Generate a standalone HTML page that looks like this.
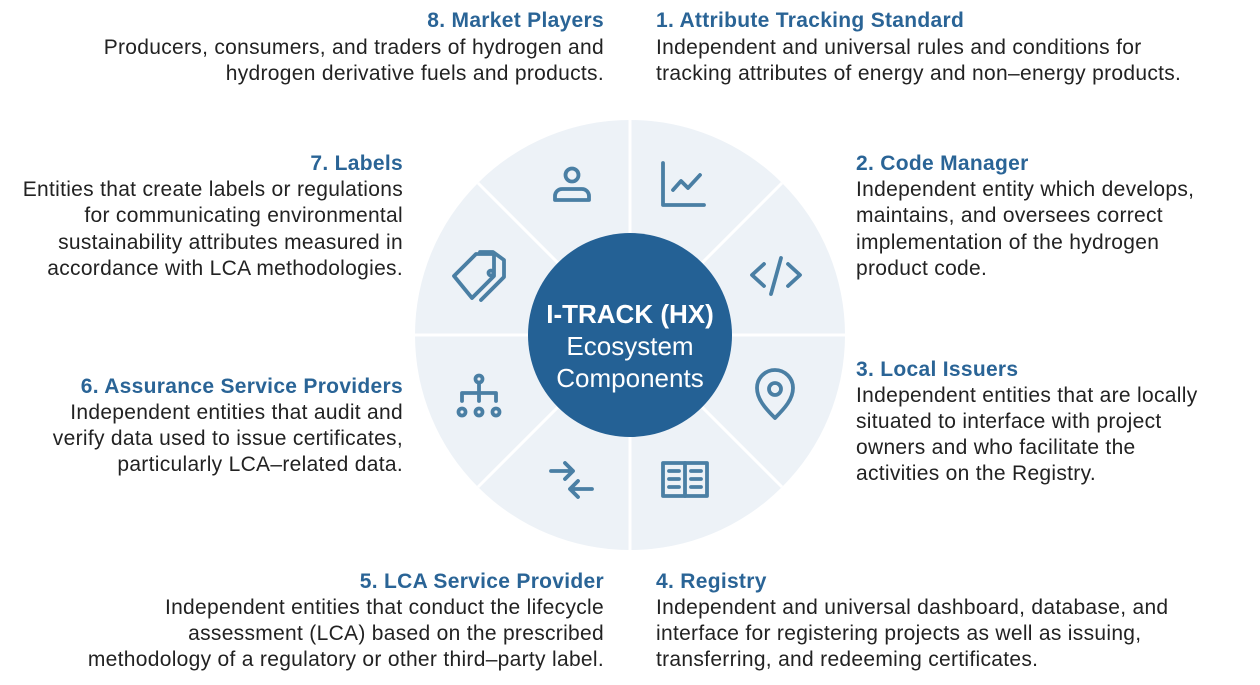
<!DOCTYPE html>
<html><head><meta charset="utf-8"><style>
html,body{margin:0;padding:0;background:#fff;}
svg{display:block;}
text{font-family:"Liberation Sans",Arial,sans-serif;font-size:21px;letter-spacing:0.3px;fill:#222;}
.t{font-weight:bold;fill:#2a6496;}
.r{text-anchor:end;}
.ic{fill:none;stroke:#4a7fa4;stroke-width:3.8;stroke-linecap:round;stroke-linejoin:round;}
</style></head><body>
<svg width="1260" height="685" viewBox="0 0 1260 685">
<circle cx="630" cy="335" r="215" fill="#edf2f7"/>
<g stroke="#fff" stroke-width="3">
<line x1="630" y1="120" x2="630" y2="550"/>
<line x1="415" y1="335" x2="845" y2="335"/>
<line x1="478" y1="183" x2="782" y2="487"/>
<line x1="782" y1="183" x2="478" y2="487"/>
</g>
<circle cx="630" cy="335" r="102" fill="#246195"/>
<text x="630" y="323" text-anchor="middle" style="font-weight:bold;font-size:26px;letter-spacing:0;fill:#fff">I-TRACK (HX)</text>
<text x="630" y="355" text-anchor="middle" style="font-size:26px;letter-spacing:0;fill:#fff">Ecosystem</text>
<text x="630" y="387" text-anchor="middle" style="font-size:26px;letter-spacing:0;fill:#fff">Components</text>
<g class="ic">
<circle cx="572" cy="175" r="6.5"/>
<path d="M555 200 v-4 a7 7 0 0 1 7 -7 h20 a7 7 0 0 1 7 7 v4 z"/>
<path d="M663 163 v42 h41"/>
<path d="M673 190 l8 -9 l7 7 l12 -13"/>
<path d="M764 264 l-12 11 l12 11 M788 264 l12 11 l-12 11 M781 258 l-10 36"/>
<path d="M775 418 c-10 -10 -18 -19 -18 -30 a18 18 0 0 1 36 0 c0 11 -8 20 -18 30 z"/>
<circle cx="775" cy="389" r="6"/>
<rect x="663" y="463" width="44" height="33"/>
<line x1="685" y1="463" x2="685" y2="496"/>
<path d="M669 471 h10 M669 479 h10 M669 487 h10 M691 471 h10 M691 479 h10 M691 487 h10"/>
<path d="M551 471 h22 M565 463 l8 8 l-8 8 M592 489 h-22 M578 481 l-8 8 l8 8"/>
<circle cx="479" cy="379" r="3.5"/>
<path d="M479 383 v10 M462 401 v-8 h34 v8 M479 393 v8"/>
<circle cx="462" cy="412" r="3.5"/><circle cx="479" cy="412" r="3.5"/><circle cx="496" cy="412" r="3.5"/>
<path d="M454 276 L476 254 L494 254 L494 276 L472 298 Z"/>
<path d="M480 252 h13 l11 8 v17 l-23 23"/>
<circle cx="491" cy="273" r="2.5"/>
</g>
<text x="604" y="27" class="t r">8. Market Players</text>
<text x="604" y="54" class="r">Producers, consumers, and traders of hydrogen and</text>
<text x="604" y="80" class="r">hydrogen derivative fuels and products.</text>
<text x="403" y="170" class="t r">7. Labels</text>
<text x="403" y="196" class="r">Entities that create labels or regulations</text>
<text x="403" y="222" class="r">for communicating environmental</text>
<text x="403" y="249" class="r">sustainability attributes measured in</text>
<text x="403" y="275" class="r">accordance with LCA methodologies.</text>
<text x="403" y="393" class="t r">6. Assurance Service Providers</text>
<text x="403" y="419" class="r">Independent entities that audit and</text>
<text x="403" y="445" class="r">verify data used to issue certificates,</text>
<text x="403" y="471" class="r">particularly LCA–related data.</text>
<text x="604" y="588" class="t r">5. LCA Service Provider</text>
<text x="604" y="614" class="r">Independent entities that conduct the lifecycle</text>
<text x="604" y="640" class="r">assessment (LCA) based on the prescribed</text>
<text x="604" y="666" class="r">methodology of a regulatory or other third–party label.</text>
<text x="656" y="27" class="t">1. Attribute Tracking Standard</text>
<text x="656" y="54">Independent and universal rules and conditions for</text>
<text x="656" y="80">tracking attributes of energy and non–energy products.</text>
<text x="856" y="170" class="t">2. Code Manager</text>
<text x="856" y="196">Independent entity which develops,</text>
<text x="856" y="222">maintains, and oversees correct</text>
<text x="856" y="249">implementation of the hydrogen</text>
<text x="856" y="275">product code.</text>
<text x="856" y="376" class="t">3. Local Issuers</text>
<text x="856" y="402">Independent entities that are locally</text>
<text x="856" y="428">situated to interface with project</text>
<text x="856" y="454">owners and who facilitate the</text>
<text x="856" y="480">activities on the Registry.</text>
<text x="656" y="588" class="t">4. Registry</text>
<text x="656" y="614">Independent and universal dashboard, database, and</text>
<text x="656" y="640">interface for registering projects as well as issuing,</text>
<text x="656" y="666">transferring, and redeeming certificates.</text>
</svg>
</body></html>
